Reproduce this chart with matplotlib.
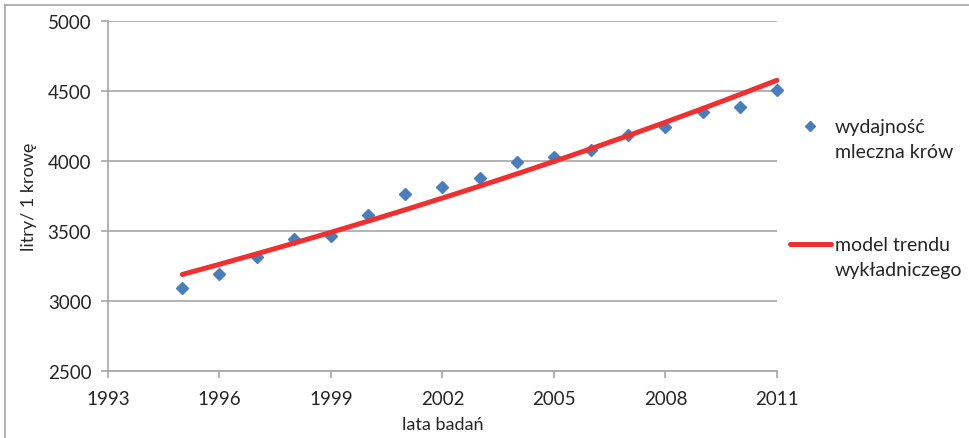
import numpy as np
import matplotlib
matplotlib.use("Agg")
import matplotlib.pyplot as plt
from matplotlib.lines import Line2D

plt.rcParams['font.family'] = ['Lato', 'DejaVu Sans']

years = [1995, 1996, 1997, 1998, 1999, 2000, 2001, 2002, 2003,
         2004, 2005, 2006, 2007, 2008, 2009, 2010, 2011]
milk = [3090, 3195, 3315, 3445, 3465, 3615, 3762, 3815, 3878,
        3990, 4030, 4080, 4185, 4243, 4348, 4386, 4508]
x_ticks = [1993, 1996, 1999, 2002, 2005, 2008, 2011]
y_ticks = [2500, 3000, 3500, 4000, 4500, 5000]
labels = ['wydajność\nmleczna krów', 'model trendu\nwykładniczego']

# exponential trend fitted on the data (Excel-style trendline)
yrs = np.array(years, dtype=float)
b, ln_a = np.polyfit(yrs - yrs[0], np.log(milk), 1)
trend = np.exp(ln_a) * np.exp(b * (yrs - yrs[0]))

fig = plt.figure(figsize=(9.7, 4.39), dpi=100)
ax = fig.add_axes([0.1113, 0.1526, 0.801 - 0.1113, 0.9499 - 0.1526])

grey = '#a6a6a6'
txt = '#262626'
blue = '#4a7ebb'
red = '#ee3030'
fs = 13.5

ax.plot(years, milk, linestyle='none', marker='D', markersize=6.5,
        color=blue, zorder=3, clip_on=False)
ax.plot(years, trend, color=red, linewidth=3.6,
        solid_capstyle='round', zorder=4, clip_on=False)

ax.set_xlim(1993, 2011)
ax.set_ylim(2500, 5000)
ax.set_xticks(x_ticks)
ax.set_yticks(y_ticks)
ax.grid(axis='y', color=grey, linewidth=1.2)
ax.set_axisbelow(True)
for side in ['top', 'right']:
    ax.spines[side].set_visible(False)
for side in ['left', 'bottom']:
    ax.spines[side].set_color(grey)
    ax.spines[side].set_linewidth(1.2)
ax.tick_params(colors=grey, labelcolor=txt, labelsize=fs,
               length=5, width=1.2)
ax.tick_params(axis='x', pad=9)
ax.tick_params(axis='y', pad=7)

ax.set_xlabel('lata badań', fontsize=13, color=txt, labelpad=6)
ax.set_ylabel('litry/ 1 krowę', fontsize=13, color=txt, labelpad=8)

# legend drawn by hand so the key sits on the first text line
fig.add_artist(Line2D([0.835], [0.7107], marker='D', markersize=5.5,
                      color=blue, linestyle='none', transform=fig.transFigure))
fig.text(0.861, 0.728, labels[0], fontsize=14, color=txt,
         va='top', linespacing=1.55, transform=fig.transFigure)
fig.add_artist(Line2D([0.814, 0.857], [0.4419, 0.4419], color=red,
                      linewidth=3.6, solid_capstyle='round',
                      transform=fig.transFigure))
fig.text(0.861, 0.4596, labels[1], fontsize=14, color=txt,
         va='top', linespacing=1.55, transform=fig.transFigure)

# outer frame remains (top and left edge of the chart box)
fig.add_artist(Line2D([0.005, 1.0], [0.986, 0.986], color=grey,
                      linewidth=1.2, transform=fig.transFigure))
fig.add_artist(Line2D([0.005, 0.005], [0.0, 0.986], color=grey,
                      linewidth=1.2, transform=fig.transFigure))

fig.savefig('out.png', dpi=100)
